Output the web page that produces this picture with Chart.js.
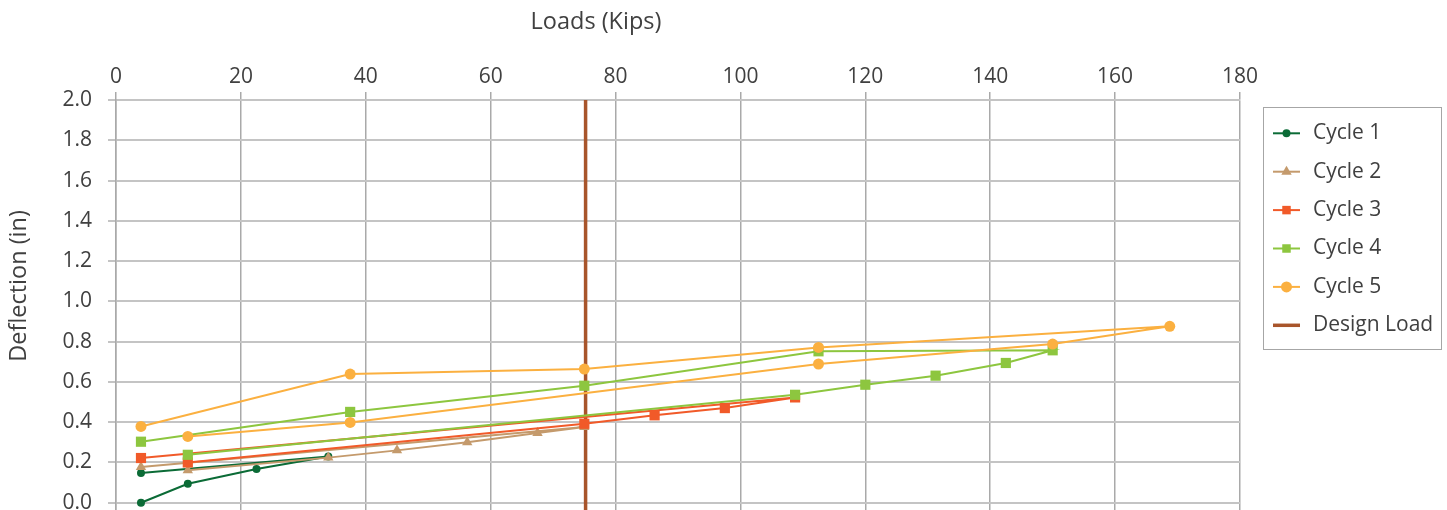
<!DOCTYPE html>
<html>
<head>
<meta charset="utf-8">
<script src="https://cdn.jsdelivr.net/npm/chart.js@4.4.1/dist/chart.umd.min.js"></script>
<style>
  html, body { margin: 0; padding: 0; overflow: hidden; background: #ffffff; }
  #c { display: block; }
</style>
</head>
<body>
<canvas id="c" width="1447" height="552" style="width:1447px;height:552px;"></canvas>
<script>
// ---- data ----
const xTickValues = [0, 20, 40, 60, 80, 100, 120, 140, 160, 180];
const yTickValues = [0.0, 0.2, 0.4, 0.6, 0.8, 1.0, 1.2, 1.4, 1.6, 1.8, 2.0];

const cycle1Loads = [4, 11.5, 22.5, 34, 4];
const cycle1Defl  = [0.00, 0.094, 0.167, 0.23, 0.148];

const cycle2Loads = [11.5, 34, 45, 56.25, 67.5, 75, 4];
const cycle2Defl  = [0.161, 0.224, 0.26, 0.30, 0.346, 0.376, 0.177];

const cycle3Loads = [11.5, 75, 86.25, 97.5, 108.75, 4];
const cycle3Defl  = [0.20, 0.392, 0.434, 0.47, 0.523, 0.222];

const cycle4Loads = [11.5, 108.75, 120, 131.25, 142.5, 150, 112.5, 75, 37.5, 4];
const cycle4Defl  = [0.238, 0.536, 0.586, 0.631, 0.694, 0.757, 0.752, 0.581, 0.451, 0.303];

const cycle5Loads = [11.5, 37.5, 112.5, 150, 168.75, 112.5, 75, 37.5, 4];
const cycle5Defl  = [0.329, 0.399, 0.689, 0.788, 0.876, 0.771, 0.664, 0.639, 0.379];

const designLoads = [75.2, 75.2];
const designDefl  = [-0.2, 2.0];

const seriesNames = ['Cycle 1', 'Cycle 2', 'Cycle 3', 'Cycle 4', 'Cycle 5', 'Design Load'];

// ---- build ----
function pts(xs, ys) { return xs.map((x, i) => ({ x: x, y: ys[i] })); }

const FONT = "'Open Sans', 'Noto Sans', sans-serif";
const TEXT = '#404040';

const datasets = [
  { label: seriesNames[0], data: pts(cycle1Loads, cycle1Defl), borderColor: '#0B6B36', backgroundColor: '#0B6B36',
    pointStyle: 'circle', pointRadius: 4, borderWidth: 2, order: 5 },
  { label: seriesNames[1], data: pts(cycle2Loads, cycle2Defl), borderColor: '#C49A6C', backgroundColor: '#C49A6C',
    pointStyle: 'triangle', pointRadius: 6, borderWidth: 2, order: 4 },
  { label: seriesNames[2], data: pts(cycle3Loads, cycle3Defl), borderColor: '#F15A29', backgroundColor: '#F15A29',
    pointStyle: 'rect', pointRadius: 7.2, borderWidth: 2, order: 3 },
  { label: seriesNames[3], data: pts(cycle4Loads, cycle4Defl), borderColor: '#8DC63F', backgroundColor: '#8DC63F',
    pointStyle: 'rect', pointRadius: 7.2, borderWidth: 2, order: 2 },
  { label: seriesNames[4], data: pts(cycle5Loads, cycle5Defl), borderColor: '#FBB040', backgroundColor: '#FBB040',
    pointStyle: 'circle', pointRadius: 5.5, borderWidth: 2, order: 1 },
  { label: seriesNames[5], data: pts(designLoads, designDefl), borderColor: '#A8552B', backgroundColor: '#A8552B',
    pointStyle: false, pointRadius: 0, borderWidth: 3.5, order: 6 }
];
datasets.forEach(d => { d.showLine = true; d.pointBorderWidth = 0; d.pointHoverRadius = d.pointRadius; d.tension = 0; });

function drawMarker(ctx, style, r, x, y, color) {
  if (!style) return;
  ctx.save();
  ctx.fillStyle = color;
  ctx.beginPath();
  if (style === 'circle') {
    ctx.arc(x, y, r, 0, Math.PI * 2);
  } else if (style === 'rect') {
    const s = Math.SQRT1_2 * r;
    ctx.rect(x - s, y - s, 2 * s, 2 * s);
  } else if (style === 'triangle') {
    ctx.moveTo(x, y - r);
    ctx.lineTo(x + r * 0.866, y + r * 0.5);
    ctx.lineTo(x - r * 0.866, y + r * 0.5);
    ctx.closePath();
  }
  ctx.fill();
  ctx.restore();
}

const decor = {
  id: 'decor',
  afterDraw(chart) {
    const ctx = chart.ctx;
    ctx.save();
    ctx.fillStyle = TEXT;
    ctx.font = '23.5px ' + FONT;
    ctx.textAlign = 'center';
    ctx.textBaseline = 'middle';
    // axis titles
    ctx.fillText('Loads (Kips)', 596, 22);
    ctx.save();
    ctx.translate(19, 286);
    ctx.rotate(-Math.PI / 2);
    ctx.fillText('Deflection (in)', 0, 0);
    ctx.restore();

    // legend box
    ctx.font = '21px ' + FONT;
    ctx.strokeStyle = '#A6A6A6';
    ctx.lineWidth = 1;
    ctx.strokeRect(1263.5, 107.5, 178, 242);
    ctx.textAlign = 'left';
    chart.data.datasets.forEach((d, i) => {
      const y = 133.3 + i * 38.4;
      ctx.strokeStyle = d.borderColor;
      ctx.lineWidth = d.borderWidth;
      ctx.beginPath();
      ctx.moveTo(1273, y);
      ctx.lineTo(1300, y);
      ctx.stroke();
      drawMarker(ctx, d.pointStyle, Math.min(d.pointRadius, 6), 1286.5, y, d.backgroundColor);
      ctx.fillStyle = TEXT;
      ctx.fillText(d.label, 1313, y);
    });
    ctx.restore();
  }
};

new Chart(document.getElementById('c'), {
  type: 'scatter',
  data: { datasets: datasets },
  options: {
    responsive: false,
    maintainAspectRatio: false,
    animation: false,
    events: [],
    layout: { padding: { left: 0, top: 0, right: 207, bottom: 9 } },
    plugins: { legend: { display: false }, tooltip: { enabled: false }, title: { display: false } },
    scales: {
      x: {
        type: 'linear',
        position: 'top',
        min: 0, max: 180,
        afterBuildTicks: s => { s.ticks = xTickValues.map(v => ({ value: v })); },
        afterFit: s => { s.height = 100; s.paddingLeft = 0; s.paddingRight = 0; },
        ticks: { font: { family: FONT, size: 21 }, color: TEXT, padding: 2, maxRotation: 0 },
        grid: { color: '#A9A9A9', lineWidth: 1.5, tickLength: 8, drawTicks: true },
        border: { display: true, color: '#C4C4C4', width: 2 }
      },
      y: {
        type: 'linear',
        position: 'left',
        min: -0.2, max: 2.0,
        afterBuildTicks: s => { s.ticks = [-0.2].concat(yTickValues).map(v => ({ value: v })); },
        afterFit: s => { s.width = 116; s.paddingTop = 0; s.paddingBottom = 0; },
        ticks: { font: { family: FONT, size: 21 }, color: TEXT, padding: 16,
                 callback: v => Number(v).toFixed(1) },
        grid: { color: '#C4C4C4', lineWidth: 2, tickLength: 8, drawTicks: true },
        border: { display: true, color: '#A9A9A9', width: 1.5 }
      }
    }
  },
  plugins: [decor]
});
</script>
</body>
</html>
